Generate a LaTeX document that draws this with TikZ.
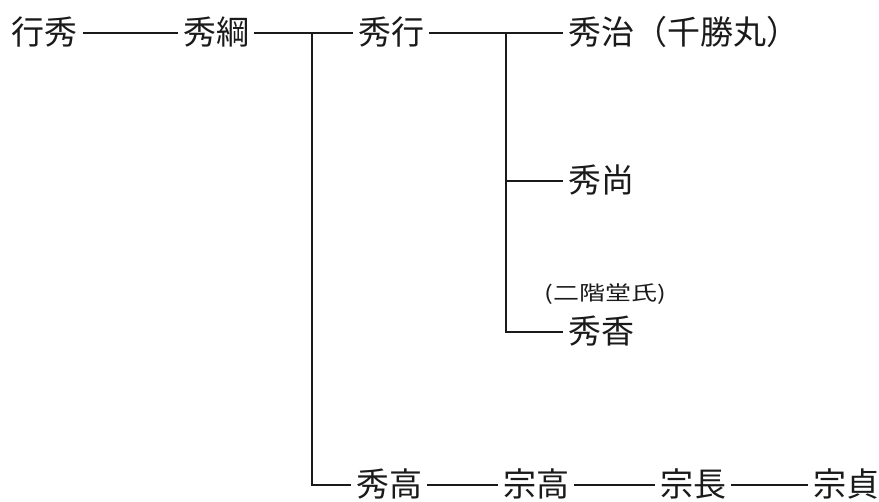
\documentclass[tikz,border=0pt]{standalone}
\usepackage{fontspec}
\usepackage{tikz}
\usetikzlibrary{positioning,calc}
\newfontfamily\jpfont{Noto Sans CJK JP}
\newfontfamily\jpwide[FakeStretch=1.3]{Noto Sans CJK JP}
\definecolor{inkblack}{HTML}{1A1A1A}

\begin{document}
\begin{tikzpicture}[x=1pt, y=-1pt]
\tikzset{person/.style={inner sep=0pt, outer sep=5pt, text=inkblack, font=\jpfont\fontsize{33}{33}\selectfont, text height=28pt, text depth=4pt},
  note/.style={inner sep=0pt, text=inkblack, font=\jpwide\fontsize{20}{20}\selectfont},
  kin/.style={draw=inkblack, line width=1.6pt}}
\useasboundingbox (0,0) rectangle (879,502);
\clip (0,0) rectangle (879,502);
\node[person] (yukihide) at (45,33) {行秀};
\node[person] (hidetsuna) at (216,33) {秀綱};
\node[person] (hideyuki) at (391,33) {秀行};
\node[person, anchor=west] (hideharu) at (563,33) {秀治（千勝丸）};
\node[person, anchor=west] (hidenao) at (563,181) {秀尚};
\node[person, anchor=west] (hideka) at (563,332) {秀香};
\node[note] (nikaido) at (605,294) {(二階堂氏)};
\node[person] (hidetaka) at (389,485) {秀高};
\node[person] (munetaka) at (536,485) {宗高};
\node[person] (munenaga) at (693,485) {宗長};
\node[person] (munesada) at (846,485) {宗貞};
\coordinate (fork1) at (312,33);
\coordinate (fork2) at (506,33);
\draw[kin] (yukihide) -- (hidetsuna);
\draw[kin] (hidetsuna) -- (hideyuki);
\draw[kin] (hideyuki) -- (hideharu);
\draw[kin] (fork1) |- (hidetaka);
\draw[kin] (fork2) |- (hidenao);
\draw[kin] (fork2) |- (hideka);
\draw[kin] (hidetaka) -- (munetaka);
\draw[kin] (munetaka) -- (munenaga);
\draw[kin] (munenaga) -- (munesada);
\end{tikzpicture}
\end{document}
